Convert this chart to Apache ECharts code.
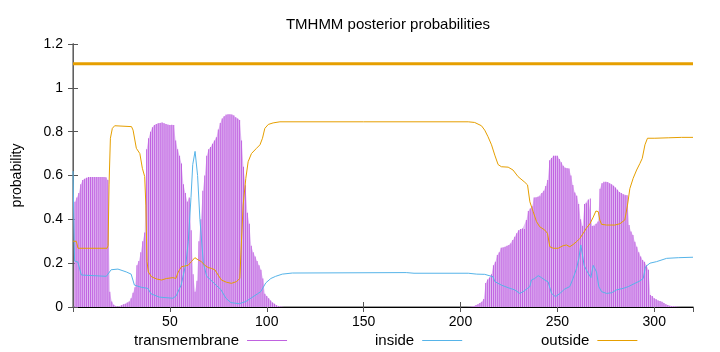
<!DOCTYPE html>
<html lang="en">
<head>
    <meta charset="UTF-8">
    <title>TMHMM posterior probabilities</title>
    <script src="https://cdn.jsdelivr.net/npm/echarts@6/dist/echarts.min.js"></script>
</head>
<body style="margin:0">
<div class="main" style="width:720px;height:352px"></div>
<script>
    // transmembrane posterior, one value per residue 1..320
    var tmProb = [
        0.48,0.50,0.52,0.56,0.58,0.585,0.59,0.593,0.593,0.593,0.593,0.593,0.593,0.593,0.593,0.593,0.592,0.58,0.07,0.025,
        0.01,0.003,0.001,0.002,0.008,0.012,0.015,0.02,0.025,0.04,0.065,0.09,0.19,0.21,0.25,0.30,0.34,0.72,0.77,0.80,
        0.82,0.83,0.835,0.838,0.84,0.842,0.838,0.835,0.832,0.83,0.832,0.83,0.76,0.72,0.69,0.655,0.56,0.52,0.48,0.50,
        0.35,0.15,0.07,0.12,0.30,0.40,0.53,0.60,0.69,0.72,0.73,0.745,0.76,0.775,0.81,0.84,0.86,0.87,0.878,0.88,
        0.88,0.878,0.875,0.866,0.86,0.853,0.76,0.64,0.555,0.43,0.38,0.28,0.25,0.23,0.21,0.19,0.17,0.13,0.06,0.05,
        0.04,0.03,0.02,0.015,0.008,0.004,0.002,0.001,0,0,0,0,0,0,0,0,0,0,0,0,
        0,0,0,0,0,0,0,0,0,0,0,0,0,0,0,0,0,0,0,0,
        0,0,0,0,0,0,0,0,0,0,0,0,0,0,0,0,0,0,0,0,
        0,0,0,0,0,0,0,0,0,0,0,0,0,0,0,0,0,0,0,0,
        0,0,0,0,0,0,0,0,0,0,0,0,0,0,0,0,0,0,0,0,
        0,0,0,0,0.001,0.002,0.005,0.009,0.012,0.018,0.024,0.036,0.11,0.125,0.135,0.15,0.19,0.207,0.237,0.25,
        0.27,0.272,0.275,0.28,0.283,0.29,0.306,0.32,0.336,0.35,0.356,0.358,0.356,0.397,0.438,0.45,0.46,0.50,0.50,0.503,
        0.505,0.52,0.53,0.552,0.58,0.67,0.68,0.69,0.69,0.69,0.675,0.66,0.645,0.635,0.633,0.632,0.60,0.557,0.523,0.508,
        0.47,0.40,0.37,0.47,0.473,0.49,0.495,0.37,0.37,0.38,0.39,0.54,0.565,0.572,0.572,0.57,0.565,0.56,0.553,0.545,
        0.535,0.525,0.52,0.515,0.51,0.51,0.374,0.344,0.328,0.298,0.275,0.25,0.23,0.215,0.207,0.19,0.17,0.055,0.05,0.04,
        0.035,0.03,0.027,0.024,0.018,0.012,0.009,0.006,0.004,0.003,0.002,0.001,0,0,0,0,0,0,0,0
    ];

    // inside / outside posterior, [position, probability]
    var insidePts = [
        [0,0.62],[0.8,0.21],[2.5,0.205],[4.3,0.146],[17.2,0.14],[19.7,0.17],[23.2,0.173],[27.5,0.16],[30,0.15],
        [31.7,0.10],[35.2,0.09],[38.6,0.085],[40.3,0.06],[44.6,0.045],[51.5,0.04],[53.2,0.05],[55.8,0.10],
        [58.3,0.20],[59.5,0.30],[60.9,0.50],[61.8,0.65],[63,0.71],[64.3,0.60],[65.5,0.40],[67.3,0.20],[69,0.14],
        [70.3,0.13],[73.8,0.10],[76.3,0.08],[78.9,0.04],[81.5,0.02],[85.8,0.015],[89.2,0.025],[91.8,0.04],
        [95.2,0.06],[96.9,0.07],[99.5,0.11],[102.1,0.13],[104.6,0.14],[108,0.15],[113.2,0.155],[172,0.157],
        [176,0.154],[204,0.154],[208.4,0.15],[212.5,0.149],[216.8,0.138],[217.7,0.116],[221.1,0.10],[224.6,0.088],
        [228,0.078],[230.6,0.062],[232.3,0.07],[234.6,0.085],[235.8,0.093],[236.6,0.123],[238.3,0.13],[240.1,0.143],
        [241.8,0.134],[243.5,0.123],[245.2,0.115],[247,0.062],[249,0.047],[251.3,0.062],[253.8,0.082],[256.4,0.093],
        [258.1,0.13],[259.9,0.176],[261.1,0.222],[262.1,0.283],[263,0.275],[263.8,0.19],[265.5,0.16],[267.3,0.134],
        [268.5,0.19],[269.3,0.19],[270.2,0.16],[271.4,0.093],[272.8,0.07],[275.4,0.062],[278,0.065],[280.5,0.078],
        [284,0.085],[286.6,0.093],[290,0.108],[292.6,0.119],[294.3,0.13],[295.5,0.184],[297.8,0.20],[301.2,0.207],
        [306.4,0.222],[312.4,0.225],[320,0.227]
    ];
    var outsidePts = [
        [0,0.30],[1.7,0.30],[2.6,0.268],[17.6,0.268],[18.1,0.28],[18.6,0.557],[19.3,0.77],[20.3,0.815],[21.5,0.827],
        [30.2,0.823],[31,0.807],[32.7,0.724],[34.5,0.70],[35.8,0.633],[37,0.595],[37.6,0.465],[38.2,0.207],
        [38.9,0.16],[40.5,0.138],[43.1,0.128],[45.7,0.123],[48.2,0.13],[51.7,0.134],[53.1,0.13],[54.3,0.16],
        [56,0.184],[57.7,0.187],[59.4,0.19],[61.1,0.207],[62.9,0.225],[64.6,0.215],[66.3,0.207],[68,0.19],
        [69.8,0.18],[71.5,0.176],[73.2,0.17],[74.9,0.146],[76.6,0.123],[79.2,0.113],[81.8,0.108],[84.4,0.116],
        [86.1,0.13],[87,0.31],[87.8,0.465],[89.2,0.587],[90.4,0.663],[92.1,0.70],[94.7,0.724],[96.5,0.74],
        [97.8,0.77],[99,0.815],[100.8,0.833],[103.3,0.84],[106.8,0.845],[150,0.845],[204,0.845],[207.3,0.842],
        [210.8,0.827],[212.5,0.807],[214.2,0.777],[216,0.74],[217.7,0.693],[219.4,0.65],[221.1,0.64],[224.6,0.638],
        [227.1,0.625],[229.7,0.595],[233.2,0.569],[234.6,0.557],[235.8,0.48],[237.5,0.435],[239.2,0.39],
        [240.9,0.366],[243.5,0.351],[244.9,0.336],[246.1,0.275],[247.8,0.268],[250.4,0.268],[253,0.28],
        [254.7,0.283],[256.4,0.275],[258.1,0.285],[259.9,0.298],[261.6,0.313],[263.3,0.336],[265,0.36],
        [266.8,0.38],[268.5,0.41],[269.9,0.438],[271.1,0.435],[271.9,0.397],[272.8,0.377],[275.4,0.374],
        [279.7,0.374],[282.3,0.38],[284.8,0.397],[286.2,0.465],[287.4,0.54],[289.1,0.587],[290.9,0.625],
        [292.6,0.655],[293.8,0.678],[295.2,0.74],[296.5,0.77],[300.3,0.77],[307.2,0.772],[314.1,0.774],[320,0.774]
    ];

    // predicted topology bar drawn above the curves
    var topoFrom = [0];
    var topoTo = [320];
    var topoLevel = 1.11;

    var legendNames = ['transmembrane', 'inside', 'outside'];
    var xTicks = [0, 320, 50];
    var yTicks = [0, 1.2, 0.2];

    var FONT = '"Liberation Sans", Arial, sans-serif';
    var main = document.querySelector(".main");
    var chart = echarts.init(main, null, {renderer: 'canvas'});

    var tmData = tmProb.map(function (v, k) { return [k + 1, v]; });
    var topoData = [];
    topoFrom.forEach(function (f, k) {
        topoData.push([f, topoLevel], [topoTo[k], topoLevel]);
    });

    function legendAt(name, left) {
        return {
            data: [name], left: left, top: 333, padding: 0,
            align: 'right', icon: 'rect', itemWidth: 40, itemHeight: 1,
            selectedMode: false,
            textStyle: {fontSize: 15, color: '#000', fontFamily: FONT, padding: [0, 3, 0, 0]}
        };
    }

    var axisBase = {
        splitLine: {show: false},
        axisTick: {show: true, inside: true, length: 5, lineStyle: {color: '#555'}}
    };

    var option = {
        backgroundColor: '#fff',
        animation: false,
        textStyle: {fontFamily: FONT},
        title: {
            text: 'TMHMM posterior probabilities',
            left: 383, top: 12, textAlign: 'center',
            textStyle: {fontSize: 15, fontWeight: 'normal', color: '#000', fontFamily: FONT}
        },
        grid: {left: 73, right: 27, top: 44, bottom: 45, containLabel: false, outerBoundsMode: 'none'},
        legend: [
            legendAt(legendNames[0], 134),
            legendAt(legendNames[1], 375),
            legendAt(legendNames[2], 541)
        ],
        xAxis: [
            Object.assign({
                type: 'value', min: xTicks[0], max: xTicks[1], interval: xTicks[2], position: 'bottom',
                axisLine: {show: true, lineStyle: {color: '#808080', width: 1.5}},
                axisLabel: {color: '#000', fontSize: 14, margin: 8, fontFamily: FONT,
                    showMinLabel: false, showMaxLabel: false}
            }, axisBase),
            Object.assign({
                type: 'value', min: xTicks[0], max: xTicks[1], interval: xTicks[2], position: 'top',
                axisLine: {show: true, lineStyle: {color: '#000'}},
                axisLabel: {show: false}
            }, axisBase)
        ],
        yAxis: [
            Object.assign({
                type: 'value', min: yTicks[0], max: yTicks[1], interval: yTicks[2], position: 'left',
                name: 'probability', nameLocation: 'middle', nameGap: 49,
                nameTextStyle: {fontSize: 14, color: '#000', fontFamily: FONT},
                axisLine: {show: true, lineStyle: {color: '#000'}},
                axisLabel: {color: '#000', fontSize: 14, margin: 10, fontFamily: FONT}
            }, axisBase),
            Object.assign({
                type: 'value', min: yTicks[0], max: yTicks[1], interval: yTicks[2], position: 'right',
                axisLine: {show: true, lineStyle: {color: '#808080', width: 1.5}},
                axisLabel: {show: false}
            }, axisBase)
        ],
        series: [
            {
                name: 'tmFill', type: 'line', data: tmData, symbol: 'none', silent: true,
                lineStyle: {width: 0}, areaStyle: {color: '#e2bff4', opacity: 1}, z: 1
            },
            {
                name: legendNames[0], type: 'bar', data: tmData, barWidth: 1,
                color: '#c062e0', itemStyle: {color: '#c062e0'}, z: 2
            },
            {
                name: legendNames[1], type: 'line', data: insidePts, symbol: 'none',
                color: '#56b4e9', lineStyle: {color: '#56b4e9', width: 1}, z: 3
            },
            {
                name: legendNames[2], type: 'line', data: outsidePts, symbol: 'none',
                color: '#e69f00', lineStyle: {color: '#e69f00', width: 1}, z: 3
            },
            {
                name: 'topology', type: 'line', data: topoData, symbol: 'none', silent: true,
                color: '#e69f00', lineStyle: {color: '#e69f00', width: 3}, z: 4
            }
        ]
    };
    chart.setOption(option);
</script>
</body>
</html>
